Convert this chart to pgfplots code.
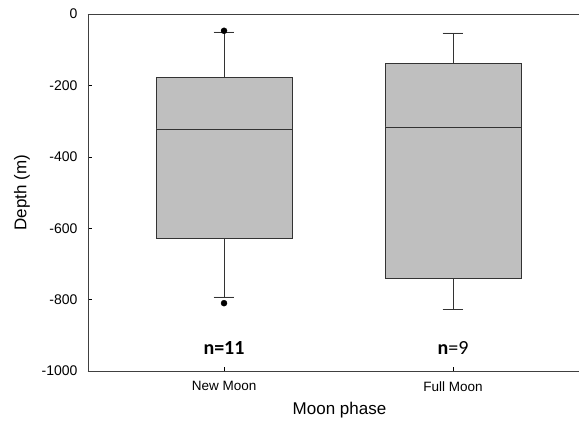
\documentclass[border=0pt]{standalone}
\usepackage{fontspec}
\setmainfont{Liberation Sans}
\newfontfamily\calib{Carlito}
\usepackage{pgfplots}
\pgfplotsset{compat=1.18}
\usepgfplotslibrary{statistics}
\usetikzlibrary{calc}
\begin{document}
\begin{tikzpicture}
\begin{axis}[name=ax,
  scale only axis, width=491pt, height=357pt,
  xmin=0.406, xmax=2.55, ymin=-1000, ymax=0,
  axis y line*=left, axis x line*=box,
  xtick={1,2}, xticklabels={New Moon, Full Moon},
  ytick={0,-200,-400,-600,-800,-1000},
  /pgf/number format/assume math mode=true,
  yticklabel style={font=\fontsize{14}{16}\selectfont, /pgf/number format/1000 sep={}, xshift=-7pt},
  xticklabel style={font=\fontsize{13.5}{15}\selectfont, yshift=-7pt},
  major tick length=4pt, tick pos=left,
  xtick style={draw=black}, ytick style={draw=black},
  xlabel={Moon phase}, ylabel={Depth (m)},
  xlabel style={font=\fontsize{17}{19}\selectfont, yshift=-4pt, xshift=6pt},
  ylabel style={font=\fontsize{17}{19}\selectfont, yshift=5pt},
  axis line style={draw=black!75},
  boxplot/draw direction=y, boxplot/box extend=0.594, boxplot/whisker extend=0.09,
  clip=false,
]
\addplot[draw=black!80, fill=black!25, boxplot prepared={draw position=1,
  lower whisker=-792, lower quartile=-628, median=-322, upper quartile=-176, upper whisker=-50}]
  coordinates {};
\addplot[draw=black!80, fill=black!25, boxplot prepared={draw position=2,
  lower whisker=-827, lower quartile=-740, median=-316, upper quartile=-138, upper whisker=-53}]
  coordinates {};
\addplot[only marks, mark=*, mark size=3pt, black] coordinates {(1,-47) (1,-810)};
\node[font=\calib\fontsize{20}{22}\selectfont] at (axis cs:1,-936) {\textbf{n=11}};
\node[font=\calib\fontsize{20}{22}\selectfont] at (axis cs:2,-936) {\textbf{n}=9};
\end{axis}
\pgfresetboundingbox
\path ($(ax.south west)+(-88pt,-51pt)$) rectangle ($(ax.north east)+(0,14pt)$);
\end{tikzpicture}
\end{document}
